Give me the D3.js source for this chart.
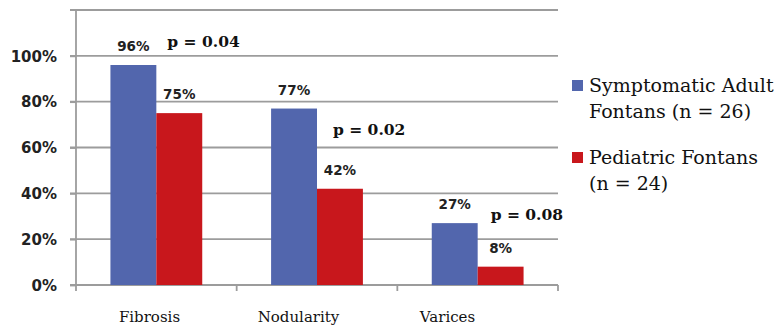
<!DOCTYPE html>
<html>
<head>
<meta charset="utf-8">
<script src="https://cdn.jsdelivr.net/npm/d3@7"></script>
<style>
  body { margin: 0; background: #fff; }
  svg { display: block; }
</style>
</head>
<body>
<div id="chart"></div>
<script>
const categories = ['Fibrosis', 'Nodularity', 'Varices'];
const seriesNames = ['Symptomatic Adult|Fontans (n = 26)', 'Pediatric Fontans|(n = 24)'];
const adultValues = [0.96, 0.77, 0.27];
const pediatricValues = [0.75, 0.42, 0.08];
const pValues = ['p = 0.04', 'p = 0.02', 'p = 0.08'];
const yTicks = [0, 0.2, 0.4, 0.6, 0.8, 1.0, 1.2];

const colors = ['#5266ad', '#c8171c'];
// where each p label sits (value units on y, pixels right of the red bar)
const pLabelY = [1.04, 0.655, 0.284];
const pLabelDx = [11, 16, 13];

const width = 783, height = 333;
const svg = d3.select('#chart').append('svg')
    .attr('width', width)
    .attr('height', height);

const x0 = d3.scaleBand().domain(categories).range([76, 558]).padding(0);
const x1 = d3.scaleBand().domain([0, 1]).range([0, x0.bandwidth()]).paddingInner(0).paddingOuter(0.75);
const xLabel = d3.scaleBand().domain(categories).range([75, 522]);
const y = d3.scaleLinear().domain([0, 1.2]).range([285, 10]);

// gridlines
svg.append('g')
    .selectAll('line')
    .data(yTicks)
    .enter().append('line')
    .attr('x1', 70)
    .attr('x2', 558)
    .attr('y1', d => y(d))
    .attr('y2', d => y(d))
    .attr('stroke', '#9c9c9c')
    .attr('stroke-width', 1.8);

// y axis
const yAxis = svg.append('g')
    .attr('transform', 'translate(76,0)')
    .call(d3.axisLeft(y).tickValues(yTicks.slice(0, 6)).tickFormat(d3.format('.0%')).tickSize(6).tickPadding(13));
yAxis.select('.domain').attr('stroke', '#9c9c9c').attr('stroke-width', 1.8).attr('d', `M0,${y(1.2)}V${y(0)}`);
yAxis.selectAll('.tick line').attr('stroke', '#9c9c9c').attr('stroke-width', 1.8);
yAxis.selectAll('.tick text')
    .attr('font-family', 'DejaVu Sans')
    .attr('font-weight', 'bold')
    .attr('font-size', 15)
    .attr('fill', '#222')
    .attr('dy', '0.35em');

// x axis ticks
svg.append('g')
    .selectAll('line')
    .data(d3.range(categories.length + 1))
    .enter().append('line')
    .attr('x1', i => i < categories.length ? x0(categories[i]) : x0.range()[1])
    .attr('x2', i => i < categories.length ? x0(categories[i]) : x0.range()[1])
    .attr('y1', y(0))
    .attr('y2', y(0) + 6)
    .attr('stroke', '#9c9c9c')
    .attr('stroke-width', 1.8);

// bars
const rows = categories.map((c, i) => ({ cat: c, vals: [adultValues[i], pediatricValues[i]] }));
const groups = svg.selectAll('.grp')
    .data(rows)
    .enter().append('g')
    .attr('class', 'grp')
    .attr('transform', d => `translate(${x0(d.cat)},0)`);

groups.selectAll('rect')
    .data(d => d.vals.map((v, s) => ({ v, s })))
    .enter().append('rect')
    .attr('x', d => x1(d.s))
    .attr('y', d => y(d.v))
    .attr('width', x1.bandwidth())
    .attr('height', d => y(0) - y(d.v))
    .attr('fill', d => colors[d.s]);

groups.selectAll('.val')
    .data(d => d.vals.map((v, s) => ({ v, s })))
    .enter().append('text')
    .attr('class', 'val')
    .attr('x', d => x1(d.s) + x1.bandwidth() / 2)
    .attr('y', d => y(d.v) - 14)
    .attr('text-anchor', 'middle')
    .attr('font-family', 'DejaVu Sans')
    .attr('font-weight', 'bold')
    .attr('font-size', 13.5)
    .attr('fill', '#222')
    .text(d => d3.format('.0%')(d.v));

// p values
groups.append('text')
    .attr('x', (d, i) => x1(1) + pLabelDx[i])
    .attr('y', (d, i) => y(pLabelY[i]))
    .attr('font-family', 'DejaVu Serif')
    .attr('font-weight', 'bold')
    .attr('font-size', 15.5)
    .attr('fill', '#111')
    .text((d, i) => pValues[i]);

// category labels
svg.append('g')
    .selectAll('text')
    .data(categories)
    .enter().append('text')
    .attr('x', d => xLabel(d) + xLabel.bandwidth() / 2)
    .attr('y', 322)
    .attr('text-anchor', 'middle')
    .attr('font-family', 'DejaVu Serif')
    .attr('font-size', 15)
    .attr('fill', '#111')
    .text(d => d);

// legend
const legend = svg.append('g')
    .selectAll('g')
    .data(seriesNames)
    .enter().append('g')
    .attr('transform', (d, i) => `translate(572,${80 + i * 72})`);

legend.append('rect')
    .attr('width', 11)
    .attr('height', 11)
    .attr('fill', (d, i) => colors[i]);

legend.append('text')
    .attr('x', 17)
    .attr('y', 12)
    .attr('font-family', 'DejaVu Serif')
    .attr('font-size', 19)
    .attr('fill', '#111')
    .selectAll('tspan')
    .data(d => d.split('|'))
    .enter().append('tspan')
    .attr('x', 17)
    .attr('dy', (d, i) => i === 0 ? 0 : 26)
    .text(d => d);
</script>
</body>
</html>
